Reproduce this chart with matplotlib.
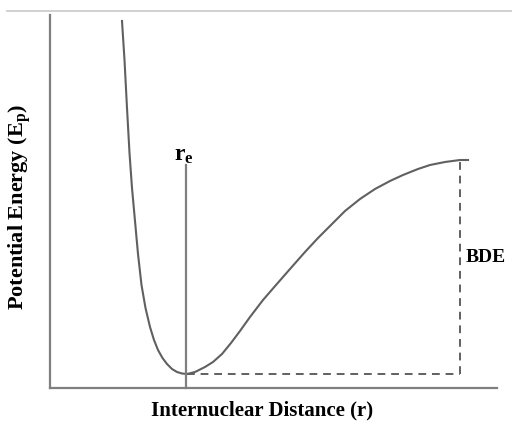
import matplotlib.pyplot as plt

# potential energy curve (r, E in arbitrary units)
r_vals = [72, 74.5, 77, 79.5, 82, 85, 88, 91.5, 95.5, 100, 104, 108, 112.5, 117,
          122, 127, 132, 137, 145, 155, 163, 172, 181, 190, 200, 213, 226, 240,
          255, 268, 280, 295, 310, 325, 340, 353, 368, 380, 395, 410, 418]
e_vals = [367, 328, 280, 235, 200, 167, 134, 103, 80, 61, 48, 38, 30, 24,
          19, 16, 14.5, 14, 16, 21, 26, 34, 45, 57, 71, 88, 103, 119,
          136, 150, 162, 177, 189, 199, 207, 213, 219, 223, 226, 228, 228]
r_e = 136
e_min = 14
e_plateau = 228
r_bde = 410

plt.rcParams['font.family'] = ['Liberation Serif', 'DejaVu Serif']
plt.rcParams['mathtext.fontset'] = 'custom'
plt.rcParams['mathtext.rm'] = 'Liberation Serif'
plt.rcParams['mathtext.bf'] = 'Liberation Serif:bold'
plt.rcParams['mathtext.it'] = 'Liberation Serif:italic'

fig = plt.figure(figsize=(5.12, 4.29), dpi=100)
ax = fig.add_axes([0, 0, 1, 1])
ax.set_xlim(-50, 462)
ax.set_ylim(-41, 388)
ax.axis('off')

grey = '#7f7f7f'
# top rule
ax.plot([-43, 462], [377, 377], color='#c8c8c8', lw=1.2)
# axes
ax.plot([0, 0], [0, 373], color=grey, lw=1.6)
ax.plot([0, 447], [0, 0], color=grey, lw=1.6)

ax.plot(r_vals, e_vals, color='#606060', lw=1.5)
ax.plot([r_e, r_e], [0, 223], color=grey, lw=1.6)
ax.plot([r_e + 1, r_bde], [e_min, e_min], color='#606060', lw=1.4, ls=(0, (4, 3)))
ax.plot([r_bde, r_bde], [e_min, e_plateau], color='#606060', lw=1.4, ls=(0, (4, 3)))

ax.text(r_e - 2, 233, r'$\mathbf{r_e}$', fontsize=17, ha='center', va='center')
ax.text(416, 131, 'BDE', fontsize=14, fontweight='bold', ha='left', va='center')
ax.text(212, -22, 'Internuclear Distance (r)', fontsize=15, fontweight='bold', ha='center', va='center')
ax.text(-30, 181, r'Potential Energy (E$\mathbf{_p}$)', fontsize=16, fontweight='bold',
        rotation=90, ha='center', va='center')

fig.savefig('out.png')
